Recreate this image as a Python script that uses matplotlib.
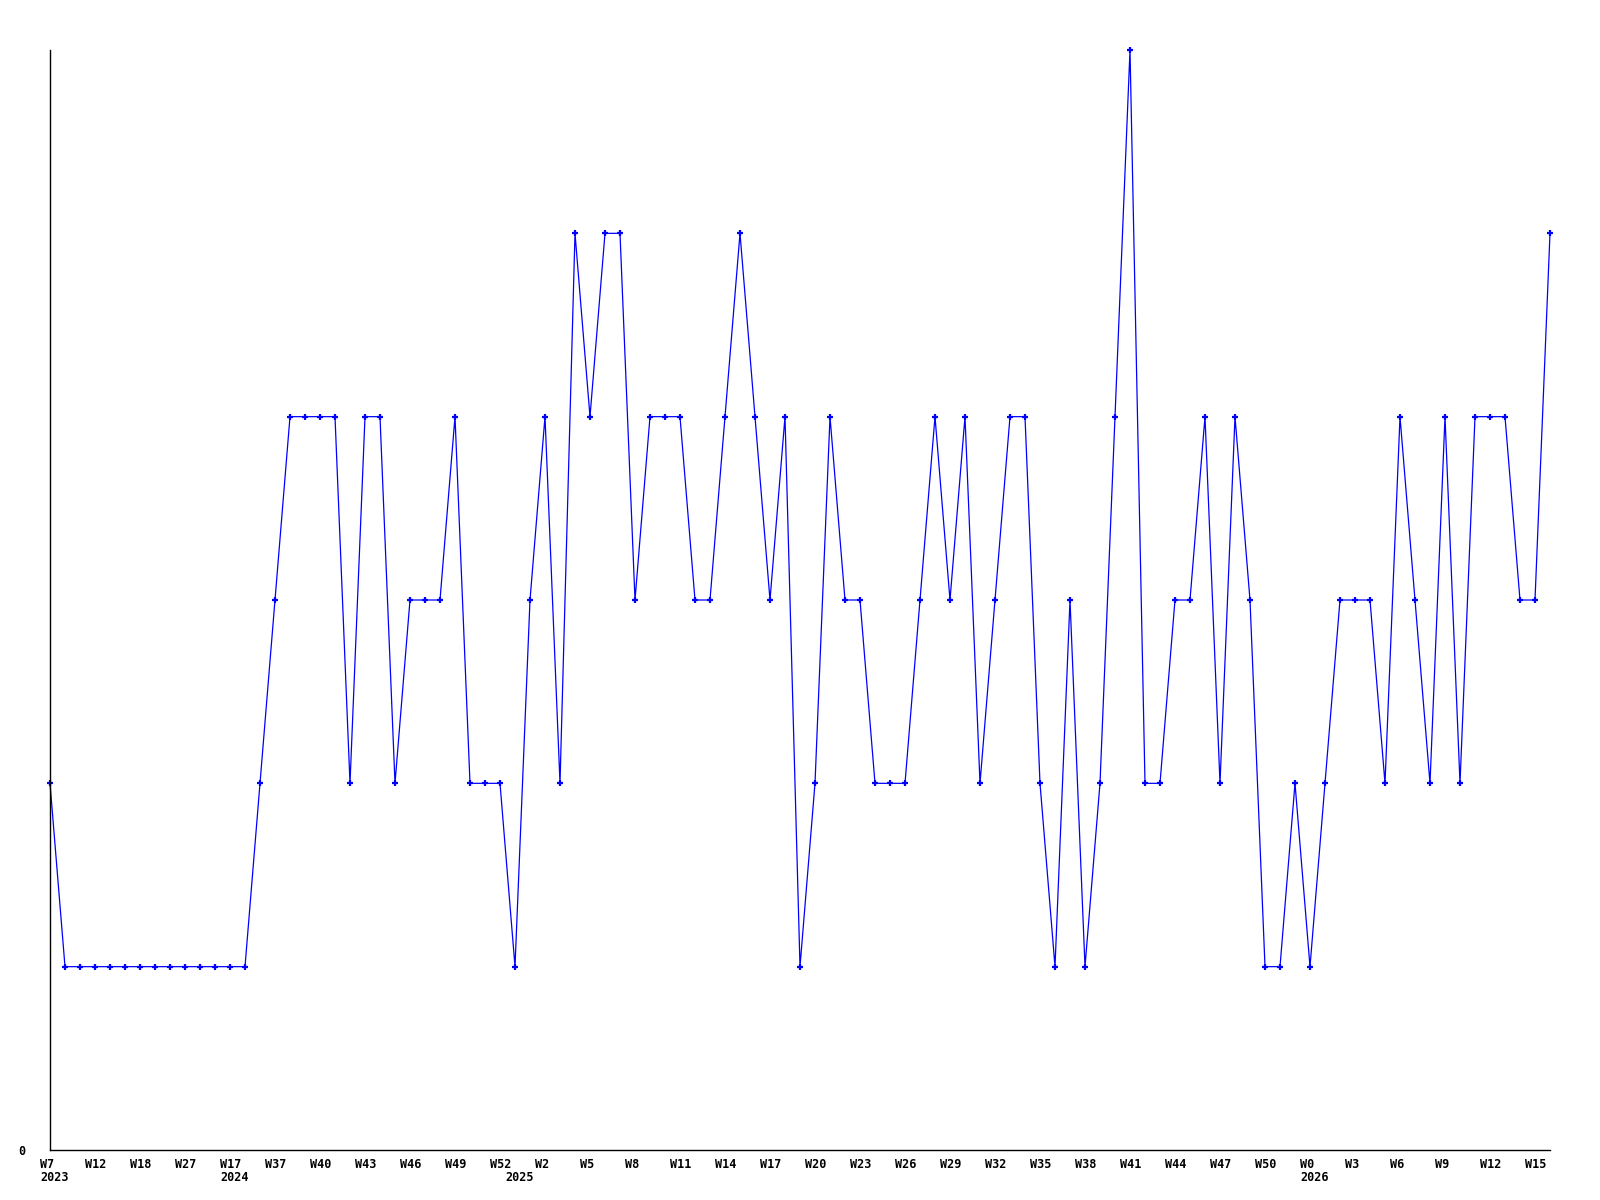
import matplotlib
matplotlib.use("Agg")
import matplotlib.pyplot as plt
import matplotlib.transforms as mtransforms

# weekly counts, one per point
values = [2, 1, 1, 1, 1, 1, 1, 1, 1, 1, 1, 1, 1, 1,
          2, 3, 4, 4, 4, 4, 2, 4, 4, 2,
          3, 3, 3, 4, 2, 2, 2, 1, 3, 4,
          2, 5, 4, 5, 5, 3, 4, 4, 4, 3,
          3, 4, 5, 4, 3, 4, 1, 2, 4, 3,
          3, 2, 2, 2, 3, 4, 3, 4, 2, 3,
          4, 4, 2, 1, 3, 1, 2, 4, 6, 2,
          2, 3, 3, 4, 2, 4, 3, 1, 1, 2,
          1, 2, 3, 3, 3, 2, 4, 3, 2, 4,
          2, 4, 4, 4, 3, 3, 5]

# tick labels every 3rd point
week_labels = ["W7", "W12", "W18", "W27", "W17", "W37", "W40", "W43", "W46",
               "W49", "W52", "W2", "W5", "W8", "W11", "W14", "W17", "W20",
               "W23", "W26", "W29", "W32", "W35", "W38", "W41", "W44", "W47",
               "W50", "W0", "W3", "W6", "W9", "W12", "W15"]
# year markers: point index where each year starts
year_pos = [0, 12, 31, 84]
year_labels = ["2023", "2024", "2025", "2026"]

x = list(range(len(values)))
tick_pos = x[::3]

fig = plt.figure(figsize=(16, 12), dpi=100)
ax = fig.add_axes([50/1600, 50/1200, 1500/1600, 1100/1200])

ax.plot(x, values, "-", color="#0000ff", linewidth=0.9, marker="+",
        markersize=5, markeredgewidth=1.6, clip_on=False)

ax.set_xlim(0, 100)
ax.set_ylim(0, 6)
ax.spines["top"].set_visible(False)
ax.spines["right"].set_visible(False)
ax.spines["left"].set_linewidth(1)
ax.spines["bottom"].set_linewidth(1)

font = dict(family="DejaVu Sans Mono", weight="bold", size=8.5)
ax.xaxis.remove_overlapping_locs = False
ax.set_xticks(tick_pos)
ax.set_xticklabels(week_labels, ha="left", va="top", **font)
ax.set_xticks(year_pos, minor=True)
ax.set_xticklabels(year_labels, minor=True, ha="left", va="top", **font)
ax.set_yticks([0])
ax.set_yticklabels(["0"], **font)
ax.tick_params(axis="x", which="major", length=0, pad=6)
ax.tick_params(axis="x", which="minor", length=0, pad=15)
ax.tick_params(axis="y", length=0, pad=18)

shift = mtransforms.ScaledTranslation(-10/100, 0, fig.dpi_scale_trans)
for lab in ax.get_xticklabels() + ax.get_xticklabels(minor=True):
    lab.set_transform(lab.get_transform() + shift)

fig.savefig("out.png", dpi=100)
